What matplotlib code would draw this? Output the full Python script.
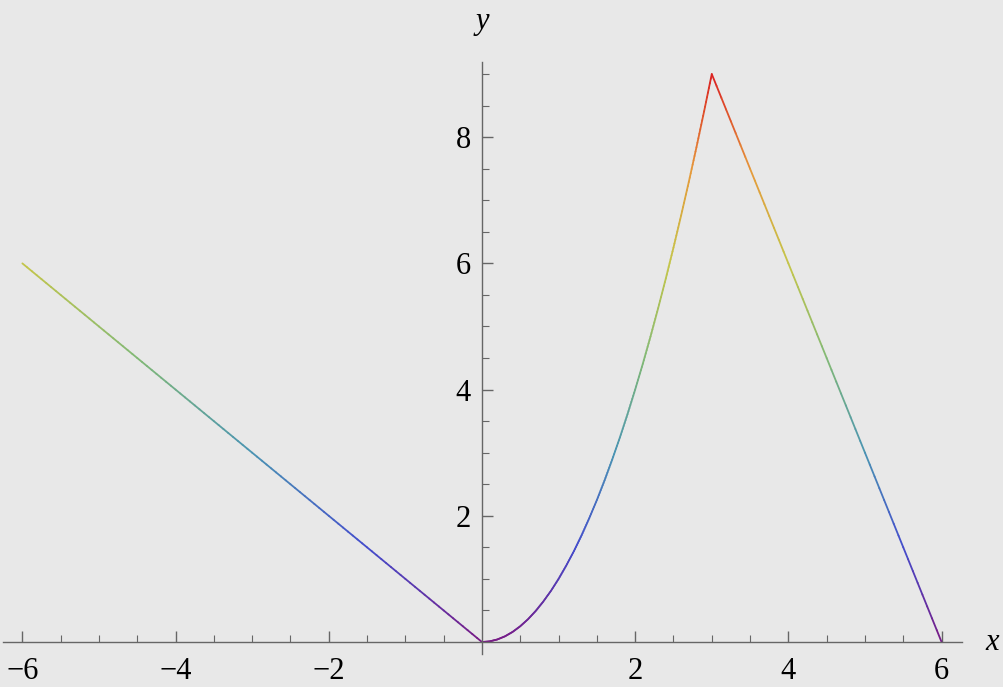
import numpy as np
import matplotlib
matplotlib.use("Agg")
import matplotlib.pyplot as plt
from matplotlib.collections import LineCollection
from matplotlib.colors import LinearSegmentedColormap
from matplotlib.ticker import FixedLocator

plt.rcParams['font.family'] = ['Liberation Serif', 'DejaVu Serif']

# Data
x_vals = [-6.0, -5.5, -5.0, -4.5, -4.0, -3.5, -3.0, -2.5, -2.0, -1.5, -1.0, -0.5, 0.0,
          0.1, 0.2, 0.3, 0.4, 0.5, 0.6, 0.7, 0.8, 0.9, 1.0,
          1.1, 1.2, 1.3, 1.4, 1.5, 1.6, 1.7, 1.8, 1.9, 2.0,
          2.1, 2.2, 2.3, 2.4, 2.5, 2.6, 2.7, 2.8, 2.9, 3.0,
          3.5, 4.0, 4.5, 5.0, 5.5, 6.0]
y_vals = [6.0, 5.5, 5.0, 4.5, 4.0, 3.5, 3.0, 2.5, 2.0, 1.5, 1.0, 0.5, 0.0,
          0.01, 0.04, 0.09, 0.16, 0.25, 0.36, 0.49, 0.64, 0.81, 1.0,
          1.21, 1.44, 1.69, 1.96, 2.25, 2.56, 2.89, 3.24, 3.61, 4.0,
          4.41, 4.84, 5.29, 5.76, 6.25, 6.76, 7.29, 7.84, 8.41, 9.0,
          7.5, 6.0, 4.5, 3.0, 1.5, 0.0]
x_ticks = [-6, -4, -2, 2, 4, 6]
y_ticks = [2, 4, 6, 8]

bg = "#e8e8e8"
axis_col = "#666666"
rainbow = LinearSegmentedColormap.from_list("mrainbow", [
    (0.471, 0.109, 0.527),
    (0.265, 0.300, 0.800),
    (0.290, 0.580, 0.700),
    (0.510, 0.725, 0.460),
    (0.770, 0.775, 0.290),
    (0.900, 0.600, 0.230),
    (0.857, 0.131, 0.132),
])

fig = plt.figure(figsize=(10.04, 6.87), dpi=100, facecolor=bg)
ax = fig.add_axes([0, 0, 1, 1], facecolor=bg)

# Build segments (sub-divided only for smooth color gradient)
segs, cvals = [], []
for i in range(len(x_vals) - 1):
    xs = np.linspace(x_vals[i], x_vals[i + 1], 9)
    ys = np.linspace(y_vals[i], y_vals[i + 1], 9)
    for j in range(len(xs) - 1):
        segs.append([(xs[j], ys[j]), (xs[j + 1], ys[j + 1])])
        cvals.append((ys[j] + ys[j + 1]) / 2)
ymax = max(y_vals)
lc = LineCollection(segs, colors=rainbow(np.array(cvals) / ymax), linewidths=1.3,
                    capstyle="round", joinstyle="round")
ax.add_collection(lc)

ax.set_xlim(-6.292, 6.815)
ax.set_ylim(-0.713, 10.174)

for s in ["top", "right"]:
    ax.spines[s].set_visible(False)
ax.spines["bottom"].set_position(("data", 0))
ax.spines["left"].set_position(("data", 0))
ax.spines["bottom"].set_bounds(-6.253, 6.266)
ax.spines["left"].set_bounds(-0.19, 9.19)
for s in ["bottom", "left"]:
    ax.spines[s].set_color(axis_col)
    ax.spines[s].set_linewidth(1.0)

ax.xaxis.set_major_locator(FixedLocator(x_ticks))
ax.yaxis.set_major_locator(FixedLocator(y_ticks))
ax.xaxis.set_minor_locator(FixedLocator([v for v in np.arange(-6, 6.01, 0.5) if v not in x_ticks and v != 0]))
ax.yaxis.set_minor_locator(FixedLocator([v for v in np.arange(0.5, 9.01, 0.5) if v not in y_ticks]))

ax.set_xticklabels([f"{t}".replace("-", "\u2212") for t in x_ticks], size=22)
ax.set_yticklabels([f"{t}" for t in y_ticks], size=22)
ax.tick_params(axis="both", which="major", direction="in", length=8, width=1.0,
               color=axis_col, labelcolor="black")
ax.tick_params(axis="both", which="minor", direction="in", length=5, width=0.8,
               color=axis_col)
ax.tick_params(axis="x", which="major", pad=11)
ax.tick_params(axis="y", which="major", pad=8)

ax.text(6.66, 0.0, "x", style="italic", size=22, ha="center", va="center")
ax.text(0.0, 9.83, "y", style="italic", size=22, ha="center", va="center")

fig.savefig("out.png", dpi=100, facecolor=bg)
